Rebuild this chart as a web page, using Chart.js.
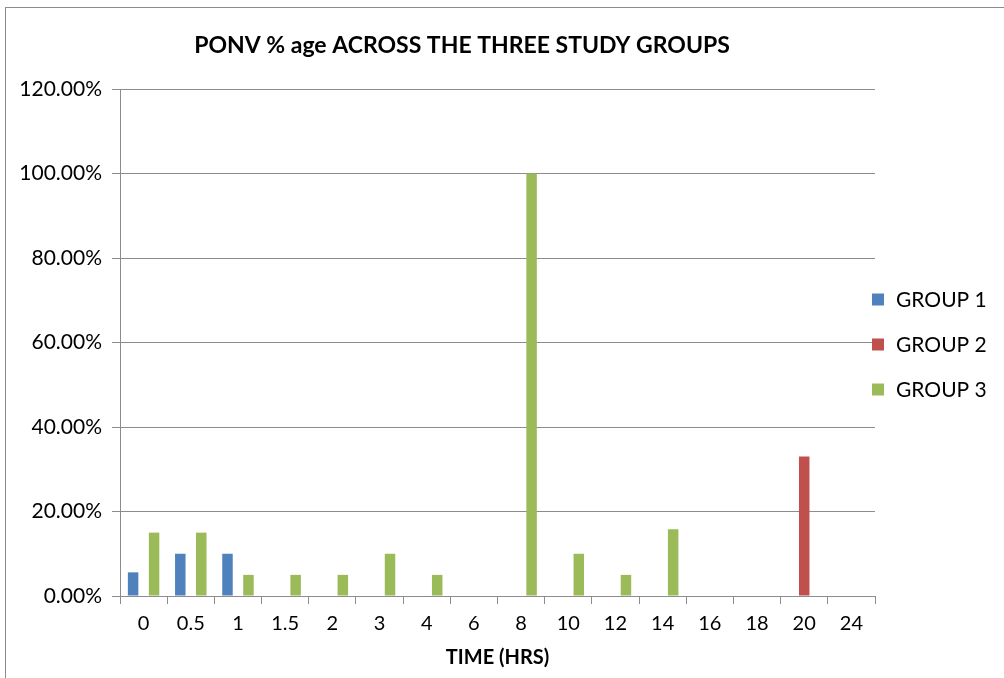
<!DOCTYPE html>
<html>
<head>
<meta charset="UTF-8">
<title>PONV % age</title>
<style>
  body { margin: 0; background: #fff; }
  #wrap { width: 1004px; height: 678px; position: relative; }
</style>
</head>
<body>
<div id="wrap"><canvas id="c" width="1004" height="678"></canvas></div>
<script src="https://cdn.jsdelivr.net/npm/chart.js"></script>
<script>
const times = ["0", "0.5", "1", "1.5", "2", "3", "4", "6", "8", "10", "12", "14", "16", "18", "20", "24"];
const group1 = [5.6, 10, 10, 0, 0, 0, 0, 0, 0, 0, 0, 0, 0, 0, 0, 0];
const group2 = [0, 0, 0, 0, 0, 0, 0, 0, 0, 0, 0, 0, 0, 0, 33, 0];
const group3 = [15, 15, 5, 5, 5, 10, 5, 0, 100, 10, 5, 15.8, 0, 0, 0, 0];

const FONT = "Lato, sans-serif";

// title, outer frame and the legend on the right
const frame = {
  id: "frame",
  afterDraw(chart) {
    const ctx = chart.ctx;
    ctx.save();
    ctx.strokeStyle = "#8c8c8c";
    ctx.lineWidth = 1;
    ctx.strokeRect(5.5, 7.5, 1100, 700);
    ctx.fillStyle = "#000";
    ctx.font = "bold 23px " + FONT;
    ctx.textAlign = "center";
    ctx.textBaseline = "middle";
    ctx.fillText("PONV % age ACROSS THE THREE STUDY GROUPS", 462, 46);

    // legend
    const sets = chart.data.datasets;
    const midY = (chart.chartArea.top + chart.chartArea.bottom) / 2 + 2;
    ctx.font = "21px " + FONT;
    ctx.textAlign = "left";
    sets.forEach((ds, i) => {
      const y = midY + (i - 1) * 45;
      ctx.fillStyle = ds.backgroundColor;
      ctx.fillRect(872, y - 6, 12, 12);
      ctx.fillStyle = "#000";
      ctx.fillText(ds.label, 896, y + 1);
    });
    ctx.restore();
  }
};

new Chart(document.getElementById("c"), {
  type: "bar",
  data: {
    labels: times,
    datasets: [
      { label: "GROUP 1", data: group1, backgroundColor: "#4f81bd" },
      { label: "GROUP 2", data: group2, backgroundColor: "#c0504d" },
      { label: "GROUP 3", data: group3, backgroundColor: "#9bbb59" }
    ]
  },
  options: {
    responsive: false,
    animation: false,
    categoryPercentage: 0.667,
    barPercentage: 1,
    layout: { padding: { top: 89, right: 129, bottom: 4, left: 0 } },
    plugins: {
      tooltip: { enabled: false },
      legend: { display: false }
    },
    scales: {
      x: {
        grid: { offset: true, drawOnChartArea: false, drawTicks: true, tickLength: 8, color: "#8c8c8c" },
        border: { color: "#8c8c8c" },
        ticks: { color: "#000", font: { family: FONT, size: 20 }, padding: 8, maxRotation: 0 },
        title: { display: true, text: "TIME (HRS)", color: "#000", font: { family: FONT, size: 20, weight: "bold" }, padding: { top: 2 } }
      },
      y: {
        min: 0, max: 120,
        afterFit(scale) { scale.width = 120; },
        grid: { color: "#8c8c8c", tickLength: 8 },
        border: { color: "#8c8c8c" },
        ticks: {
          stepSize: 20, color: "#000", padding: 10,
          font: { family: FONT, size: 21 },
          callback: v => v.toFixed(2) + "%"
        }
      }
    }
  },
  plugins: [frame]
});
</script>
</body>
</html>
